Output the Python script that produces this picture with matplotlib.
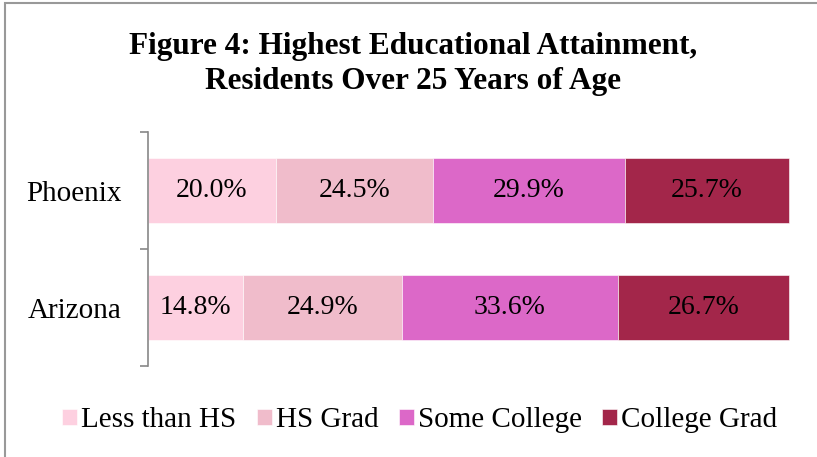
import numpy as np
import matplotlib.pyplot as plt
from matplotlib.patches import Rectangle

plt.rcParams['font.family'] = ['Liberation Serif', 'DejaVu Serif']

places = ["Phoenix", "Arizona"]
levels = ["Less than HS", "HS Grad", "Some College", "College Grad"]
phoenix = [20.0, 24.5, 29.9, 25.7]
arizona = [14.8, 24.9, 33.6, 26.7]
colores = ["#FDD0E0", "#F0BCCB", "#DC68C8", "#A3264A"]

valores = np.array([phoenix, arizona])

fig = plt.figure(figsize=(8.17, 4.57), dpi=100)
ax = fig.add_axes([0.181, 0.199, 0.786, 0.512])

y = np.arange(len(places))
izq = np.zeros(len(places))
for i in range(len(levels)):
    ax.barh(y, valores[:, i], left=izq, height=0.56, color=colores[i],
            edgecolor="white", linewidth=0.4, label=levels[i])
    for j in range(len(places)):
        ax.text(izq[j] + valores[j, i] / 2, y[j], "%.1f%%" % valores[j, i],
                ha="center", va="center", fontsize=20, color="black")
    izq = izq + valores[:, i]

ax.set_xlim(0, 100.2)
ax.set_ylim(1.5, -0.5)
ax.set_xticks([])
ax.set_yticks([-0.5, 0.5, 1.5])
ax.set_yticklabels([])
ax.set_yticks(y, minor=True)
ax.set_yticklabels(places, minor=True, fontsize=21)
ax.tick_params(axis="y", which="major", length=6, width=1.2, color="#888888", direction="out")
ax.tick_params(axis="y", which="minor", length=0, pad=19)
for s in ["top", "right", "bottom"]:
    ax.spines[s].set_visible(False)
ax.spines["left"].set_color("#888888")
ax.spines["left"].set_linewidth(1.2)

fig.text(0.506, 0.86, "Figure 4: Highest Educational Attainment,\nResidents Over 25 Years of Age",
         ha="center", va="center", fontsize=22.5, fontweight="bold", linespacing=1.25)

fig.legend(loc="center", bbox_to_anchor=(0.514, 0.08), ncol=4, frameon=False, fontsize=21,
           handlelength=0.5, handleheight=0.5, handletextpad=0.15, columnspacing=0.7)

borde = Rectangle((5 / 817, -0.1), 1.2, 1.1 - 3 / 457, transform=fig.transFigure,
                  fill=False, edgecolor="#999999", linewidth=1.5, clip_on=False)
fig.add_artist(borde)

plt.savefig("out.png", dpi=100)
